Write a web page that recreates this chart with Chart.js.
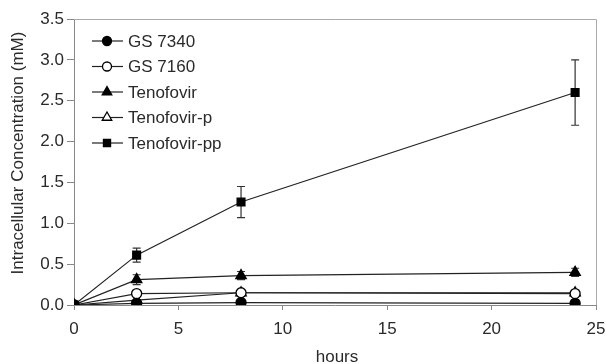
<!DOCTYPE html>
<html><head><meta charset="utf-8">
<script src="https://cdn.jsdelivr.net/npm/chart.js@4/dist/chart.umd.min.js"></script>
<style>html,body{margin:0;padding:0;background:#fff}#w{width:606px;height:364px}</style>
</head><body><div id="w"><canvas id="c" width="606" height="364"></canvas></div>
<script>
const hours = [0, 3, 8, 24];
const seriesNames = ["GS 7340", "GS 7160", "Tenofovir", "Tenofovir-p", "Tenofovir-pp"];
const gs7340 = [0, 0.02, 0.03, 0.02];
const gs7160 = [0, 0.14, 0.15, 0.14];
const tenofovir = [0, 0.31, 0.36, 0.40];
const tenofovirP = [0, 0.06, 0.15, 0.15];
const tenofovirPP = [0, 0.61, 1.26, 2.60];
const tenofovirErr = [0, 0.06, 0.05, 0.05];
const tenofovirPPErr = [0, 0.085, 0.19, 0.40];
const yTicks = [0, 0.5, 1.0, 1.5, 2.0, 2.5, 3.0, 3.5];
const xTicks = [0, 5, 10, 15, 20, 25];
const xTitle = 'hours';
const yTitle = 'Intracellular Concentration (mM)';

function pts(v){ return hours.map((h,i)=>({x:h,y:v[i]})); }
const FONT = '"Liberation Sans", Arial, sans-serif';
const TXT = '#2a2a2a';
const styles = [
  {pointStyle:'circle', fill:'#000', r:5},
  {pointStyle:'circle', fill:'#fff', r:5},
  {pointStyle:'triangle', fill:'#000', r:6},
  {pointStyle:'triangle', fill:'#fff', r:6},
  {pointStyle:'rect', fill:'#000', r:5.5}
];
const vals = [gs7340, gs7160, tenofovir, tenofovirP, tenofovirPP];
const errs = [null, null, tenofovirErr, null, tenofovirPPErr];
const datasets = vals.map((v,i)=>({
  label: seriesNames[i], data: pts(v), showLine:true,
  borderColor:'#222', borderWidth:1.2,
  pointStyle: styles[i].pointStyle, pointRadius: styles[i].r,
  pointBackgroundColor: styles[i].fill, pointBorderColor:'#000', pointBorderWidth:1.3,
  errors: errs[i]
}));

const errPlugin = {
  id:'err',
  beforeDatasetsDraw(chart){
    const ctx = chart.ctx, xs = chart.scales.x, ys = chart.scales.y;
    ctx.save(); ctx.strokeStyle='#333'; ctx.lineWidth=1.2;
    chart.data.datasets.forEach(ds=>{
      if(!ds.errors) return;
      ds.data.forEach((p,i)=>{
        const e = ds.errors[i]; if(!e) return;
        const x = xs.getPixelForValue(p.x);
        const y1 = ys.getPixelForValue(p.y+e), y2 = ys.getPixelForValue(p.y-e);
        ctx.beginPath();
        ctx.moveTo(x,y1); ctx.lineTo(x,y2);
        ctx.moveTo(x-4,y1); ctx.lineTo(x+4,y1);
        ctx.moveTo(x-4,y2); ctx.lineTo(x+4,y2);
        ctx.stroke();
      });
    });
    ctx.restore();
  },
  afterDraw(chart){
    const ctx = chart.ctx, a = chart.chartArea;
    ctx.save();
    ctx.strokeStyle='#aaa'; ctx.lineWidth=1;
    ctx.beginPath();
    ctx.moveTo(a.left, a.top+0.5); ctx.lineTo(a.right+0.5, a.top+0.5);
    ctx.lineTo(a.right+0.5, a.bottom);
    ctx.stroke();
    ctx.fillStyle = TXT; ctx.font = '17px '+FONT;
    ctx.textAlign='center'; ctx.textBaseline='middle';
    ctx.fillText(xTitle, (a.left+a.right)/2 + 2, 357);
    ctx.translate(18, 153); ctx.rotate(-Math.PI/2);
    ctx.fillText(yTitle, 0, 0);
    ctx.restore();
    // legend
    const x0 = 92, x1 = 123, xm = 107, tx = 128;
    chart.data.datasets.forEach((ds,i)=>{
      const y = 41 + i*25.5;
      ctx.save();
      ctx.strokeStyle='#222'; ctx.lineWidth=1.2;
      ctx.beginPath(); ctx.moveTo(x0,y); ctx.lineTo(x1,y); ctx.stroke();
      ctx.fillStyle = ds.pointBackgroundColor; ctx.strokeStyle='#000'; ctx.lineWidth=1.3;
      Chart.helpers.drawPoint(ctx, {pointStyle:ds.pointStyle, radius:ds.pointRadius-0.5, rotation:0, borderWidth:1.3}, xm, y);
      ctx.fillStyle=TXT; ctx.font='17px '+FONT; ctx.textBaseline='middle'; ctx.textAlign='left';
      ctx.fillText(ds.label, tx, y+1);
      ctx.restore();
    });
  }
};

new Chart(document.getElementById('c'), {
  type:'scatter',
  data:{datasets},
  plugins:[errPlugin],
  options:{
    responsive:false, animation:false, devicePixelRatio:1,
    layout:{padding:{top:19, right:10, left:0, bottom:0}},
    plugins:{legend:{display:false}, tooltip:{enabled:false}},
    scales:{
      x:{type:'linear', min:0, max:25,
        afterBuildTicks(s){ s.ticks = xTicks.map(v=>({value:v})); },
        afterFit(s){ s.height = 59; s.paddingLeft = 0; s.paddingRight = 0; },
        grid:{display:true, drawOnChartArea:false, drawTicks:true, tickLength:5, color:'#888'},
        border:{display:true, color:'#888', width:1},
        ticks:{color:TXT, font:{family:FONT, size:17}, padding:9, maxRotation:0},
        title:{display:false}
      },
      y:{type:'linear', min:0, max:3.5,
        afterBuildTicks(s){ s.ticks = yTicks.map(v=>({value:v})); },
        afterFit(s){ s.width = 74; s.paddingTop = 0; s.paddingBottom = 0; },
        grid:{display:true, drawOnChartArea:false, drawTicks:true, tickLength:7, color:'#888'},
        border:{display:true, color:'#888', width:1},
        ticks:{color:TXT, font:{family:FONT, size:17}, padding:3, callback:v=>v.toFixed(1)},
        title:{display:false}
      }
    }
  }
});
</script></body></html>
